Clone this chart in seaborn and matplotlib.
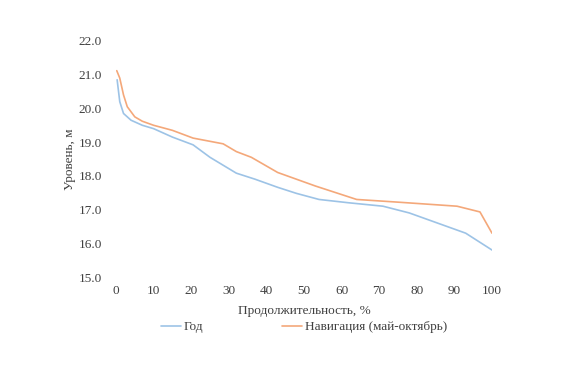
import matplotlib
matplotlib.use("Agg")
import matplotlib.pyplot as plt
import seaborn as sns
import pandas as pd

# Data
year_x = [0.3, 1, 2, 4, 7, 10, 15, 20.5, 25, 32, 37, 43, 48, 54, 62, 71, 78, 85, 93, 100]
year_y = [20.85, 20.2, 19.85, 19.65, 19.5, 19.4, 19.15, 18.92, 18.55, 18.08, 17.9, 17.66, 17.48, 17.3, 17.2, 17.1, 16.9, 16.62, 16.3, 15.8]
nav_x = [0.2, 1, 2, 3, 5, 7, 10, 15, 20.5, 28.5, 32, 36, 43, 53, 64, 75, 90.7, 96.8, 100]
nav_y = [21.12, 20.9, 20.4, 20.05, 19.75, 19.62, 19.5, 19.35, 19.12, 18.95, 18.72, 18.55, 18.1, 17.7, 17.3, 17.22, 17.1, 16.93, 16.3]
series_names = ["Год", "Навигация (май-октябрь)"]
series_colors = ["#9DC3E6", "#F4A87A"]
x_ticks = [0, 10, 20, 30, 40, 50, 60, 70, 80, 90, 100]
y_ticks = [15.0, 16.0, 17.0, 18.0, 19.0, 20.0, 21.0, 22.0]

df = pd.concat([
    pd.DataFrame({"x": year_x, "y": year_y, "s": series_names[0]}),
    pd.DataFrame({"x": nav_x, "y": nav_y, "s": series_names[1]}),
], ignore_index=True)

sns.set_style("white")
plt.rcParams["font.family"] = ["Liberation Serif", "DejaVu Serif"]

fig = plt.figure(figsize=(5.69, 3.83), dpi=100)
ax = fig.add_axes([116 / 569, 1 - 277 / 383, (492 - 116) / 569, (277 - 41) / 383])

sns.lineplot(data=df, x="x", y="y", hue="s", palette=dict(zip(series_names, series_colors)),
             sort=False, estimator=None, linewidth=1.2, ax=ax, legend=False)

ax.set_xlim(0, 100)
ax.set_ylim(15, 22)
ax.set_xticks(x_ticks)
ax.set_yticks(y_ticks)
ax.set_xticklabels([str(t) for t in x_ticks])
ax.set_yticklabels([f"{t:.1f}" for t in y_ticks])
ax.tick_params(axis="both", length=0, labelsize=9.5, colors="#404040", pad=6)
ax.tick_params(axis="y", pad=10)
for sp in ax.spines.values():
    sp.set_visible(False)

ax.set_xlabel("Продолжительность, %", fontsize=9.5, color="#404040", labelpad=5.5)
ax.set_ylabel("Уровень, м", fontsize=9.5, color="#404040", labelpad=2)

handles = [plt.Line2D([], [], color=c, linewidth=1.2) for c in series_colors]
fig.legend(handles, series_names, loc="center", bbox_to_anchor=(304 / 569, 1 - 327 / 383),
           ncol=2, frameon=False, fontsize=9.5, handlelength=1.5, handletextpad=0.2,
           columnspacing=6.0, labelcolor="#404040")

fig.savefig("out.png", dpi=100, facecolor="white")
